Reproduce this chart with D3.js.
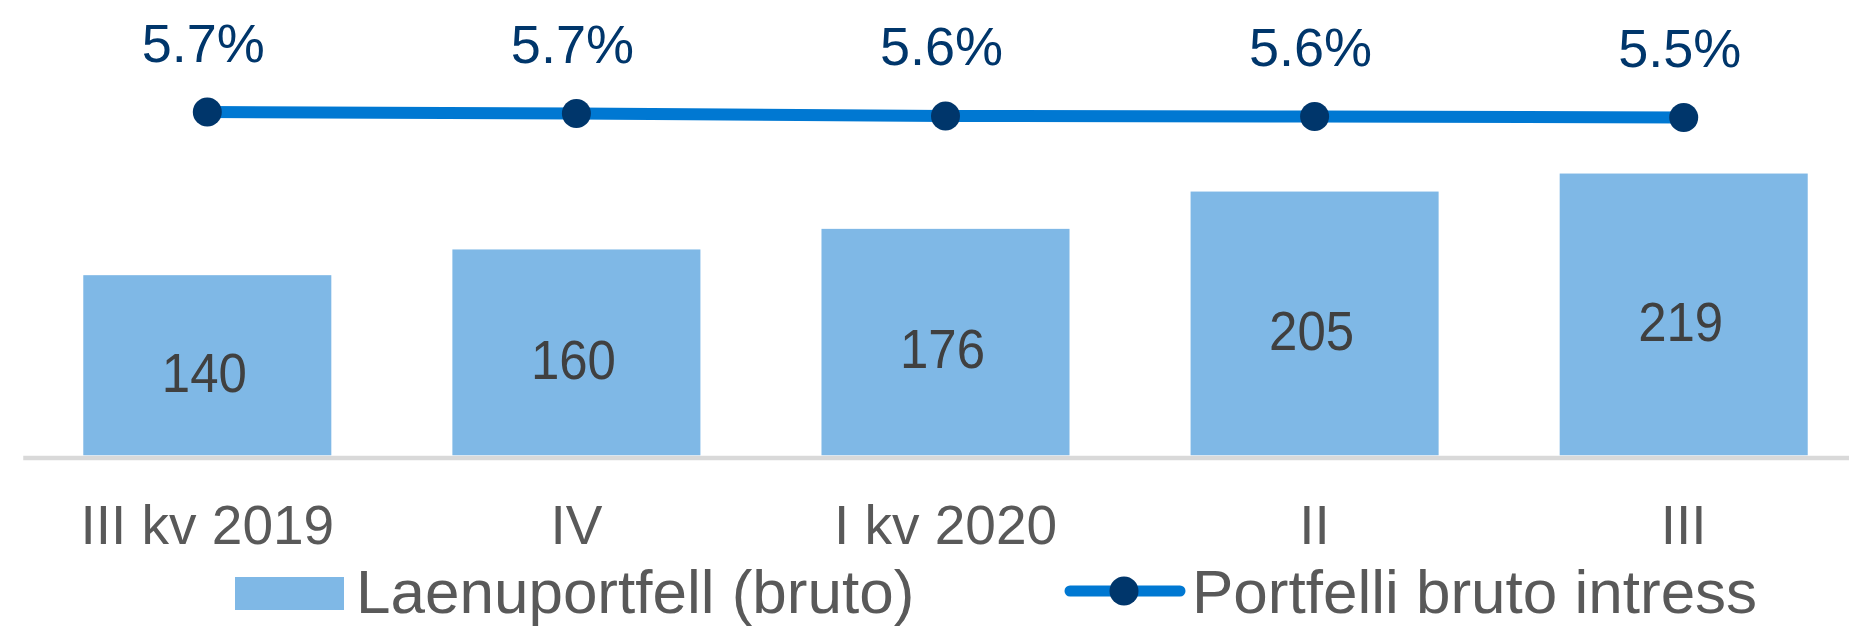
<!DOCTYPE html>
<html>
<head>
<meta charset="utf-8">
<script src="https://cdn.jsdelivr.net/npm/d3@7"></script>
<style>
  html, body { margin: 0; padding: 0; background: #fff; }
  svg { display: block; font-family: "Liberation Sans", Arial, sans-serif; }
</style>
</head>
<body>
<div id="chart"></div>
<script>
// values
const categories = ["III kv 2019", "IV", "I kv 2020", "II", "III"];
const portfolio = [140, 160, 176, 205, 219];
const interest = [5.72, 5.67, 5.59, 5.57, 5.54];
const legendLabels = ["Laenuportfell (bruto)", "Portfelli bruto intress"];

const width = 1849;
const height = 629;
const baseline = 455.3;

const barColor = "#7fb8e6";
const lineColor = "#0078d2";
const markerColor = "#00366b";

const svg = d3.select("#chart")
  .append("svg")
  .attr("width", width)
  .attr("height", height);

const x = d3.scaleBand()
  .domain(categories)
  .range([22.75, 1868.25])
  .paddingInner(0.328)
  .paddingOuter(0.164);

const y = d3.scaleLinear()
  .domain([0, 350])
  .range([baseline, 5]);

// secondary axis for the interest line (hidden in the original)
const y2 = d3.scaleLinear()
  .domain([5, 6])
  .range([133.6, 103.6]);

const cx = d => x(d) + x.bandwidth() / 2;

// bars
svg.append("g")
  .selectAll("rect")
  .data(portfolio)
  .join("rect")
    .attr("x", (d, i) => x(categories[i]))
    .attr("y", d => y(d))
    .attr("width", x.bandwidth())
    .attr("height", d => y(0) - y(d))
    .attr("fill", barColor);

// bar labels, the digits in the original are a bit narrow
svg.append("g")
  .attr("font-size", 56)
  .attr("fill", "#404040")
  .attr("text-anchor", "middle")
  .selectAll("text")
  .data(portfolio)
  .join("text")
    .attr("transform", (d, i) => `translate(${cx(categories[i]) - 3},${(y(d) + y(0)) / 2}) scale(0.91,1)`)
    .attr("dy", "0.47em")
    .text(d => d);

// category axis
const xAxis = svg.append("g")
  .attr("transform", `translate(0,${baseline + 2.2})`)
  .call(d3.axisBottom(x).tickSize(0).tickSizeOuter(0).tickPadding(47.5));
xAxis.select(".domain")
  .attr("stroke", "#d9d9d9")
  .attr("stroke-width", 4.4);
xAxis.selectAll("text")
  .attr("font-family", "\"Liberation Sans\", Arial, sans-serif")
  .attr("font-size", 55)
  .attr("fill", "#595959");

// interest line
const line = d3.line()
  .x((d, i) => cx(categories[i]))
  .y(d => y2(d));

svg.append("path")
  .datum(interest)
  .attr("fill", "none")
  .attr("stroke", lineColor)
  .attr("stroke-width", 12)
  .attr("stroke-linejoin", "round")
  .attr("d", line);

svg.append("g")
  .selectAll("circle")
  .data(interest)
  .join("circle")
    .attr("cx", (d, i) => cx(categories[i]))
    .attr("cy", d => y2(d))
    .attr("r", 14.5)
    .attr("fill", markerColor);

// interest labels
svg.append("g")
  .attr("font-size", 54)
  .attr("fill", markerColor)
  .attr("text-anchor", "middle")
  .selectAll("text")
  .data(interest)
  .join("text")
    .attr("x", (d, i) => cx(categories[i]) - 4)
    .attr("y", d => y2(d) - 50.5)
    .text(d => d3.format(".1f")(d) + "%");

// legend
const legend = svg.append("g")
  .attr("font-size", 62)
  .attr("fill", "#595959");

legend.append("rect")
  .attr("x", 235)
  .attr("y", 577)
  .attr("width", 109)
  .attr("height", 33)
  .attr("fill", barColor);
legend.append("text")
  .attr("x", 356)
  .attr("y", 613)
  .text(legendLabels[0]);

legend.append("line")
  .attr("x1", 1070)
  .attr("x2", 1180)
  .attr("y1", 591)
  .attr("y2", 591)
  .attr("stroke", lineColor)
  .attr("stroke-width", 11)
  .attr("stroke-linecap", "round");
legend.append("circle")
  .attr("cx", 1124)
  .attr("cy", 591)
  .attr("r", 14.5)
  .attr("fill", markerColor);
legend.append("text")
  .attr("x", 1192)
  .attr("y", 613)
  .text(legendLabels[1]);
</script>
</body>
</html>
